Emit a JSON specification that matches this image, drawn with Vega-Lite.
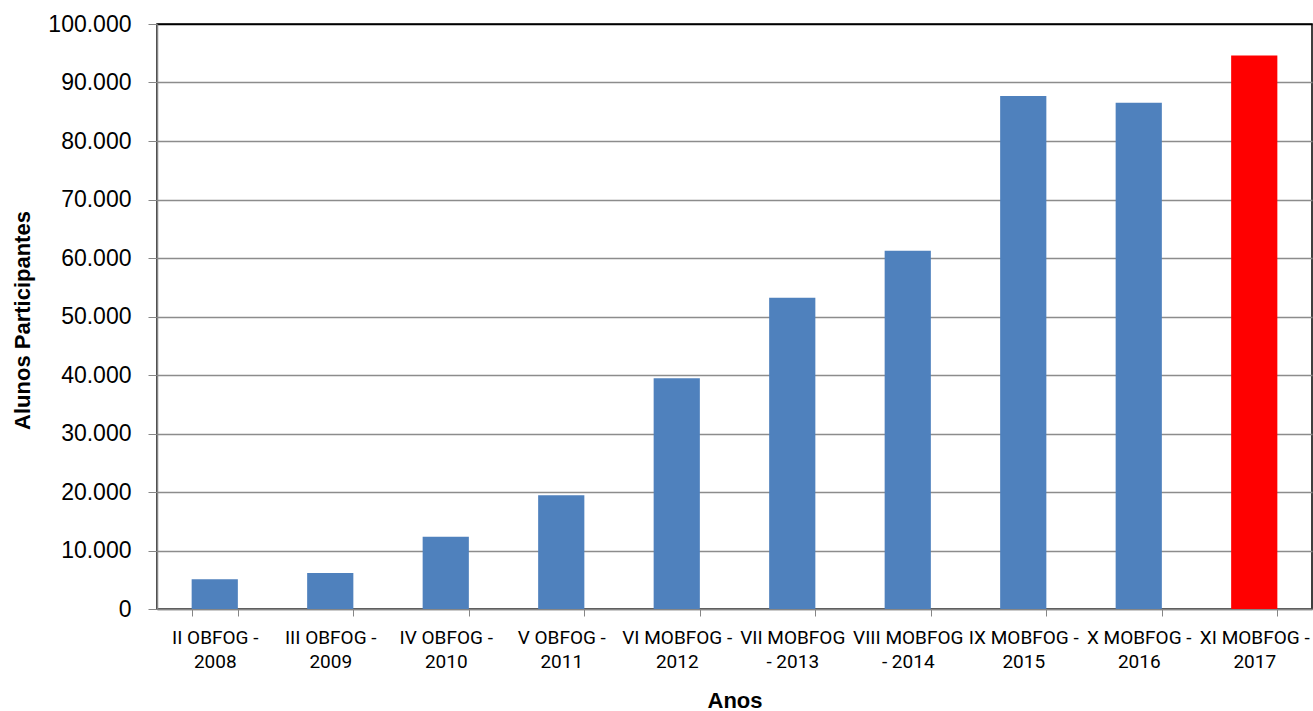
{
  "$schema": "https://vega.github.io/schema/vega-lite/v6.json",
  "autosize": "none",
  "width": 1155,
  "height": 585,
  "padding": {"left": 157, "top": 24, "right": 1, "bottom": 102},
  "background": "white",
  "config": {
    "view": {"stroke": "#000000", "strokeWidth": 1.5},
    "font": "Liberation Sans"
  },
  "data": {
    "values": [
      {"edicao": "II OBFOG -\n2008", "alunos": 5100, "destaque": "anterior"},
      {"edicao": "III OBFOG -\n2009", "alunos": 6150, "destaque": "anterior"},
      {"edicao": "IV OBFOG -\n2010", "alunos": 12350, "destaque": "anterior"},
      {"edicao": "V OBFOG -\n2011", "alunos": 19450, "destaque": "anterior"},
      {"edicao": "VI MOBFOG -\n2012", "alunos": 39450, "destaque": "anterior"},
      {"edicao": "VII MOBFOG\n- 2013", "alunos": 53200, "destaque": "anterior"},
      {"edicao": "VIII MOBFOG\n- 2014", "alunos": 61250, "destaque": "anterior"},
      {"edicao": "IX MOBFOG -\n2015", "alunos": 87700, "destaque": "anterior"},
      {"edicao": "X MOBFOG -\n2016", "alunos": 86550, "destaque": "anterior"},
      {"edicao": "XI MOBFOG -\n2017", "alunos": 94600, "destaque": "atual"}
    ]
  },
  "mark": {"type": "bar"},
  "encoding": {
    "x": {
      "field": "edicao",
      "type": "nominal",
      "sort": null,
      "scale": {"paddingInner": 0.6, "paddingOuter": 0.3},
      "axis": {
        "title": "Anos",
        "titleFont": "Liberation Sans",
        "titleFontSize": 22,
        "titleFontWeight": "bold",
        "titleColor": "#000000",
        "titleBaseline": "alphabetic",
        "titleY": 98,
        "labelAngle": 0,
        "labelExpr": "datum.value ? split(datum.value, '\\n') : ''",
        "labelFont": "Roboto",
        "labelFontSize": 19,
        "labelLineHeight": 24.5,
        "labelColor": "#000000",
        "labelPadding": 12,
        "labelOverlap": false,
        "labelBound": false,
        "tickBand": "extent",
        "tickSize": 7,
        "tickColor": "#868686",
        "domainColor": "#868686",
        "domainWidth": 1.5,
        "grid": false
      }
    },
    "y": {
      "field": "alunos",
      "type": "quantitative",
      "scale": {"domain": [0, 100000], "nice": false},
      "axis": {
        "title": "Alunos Participantes",
        "titleFont": "Liberation Sans",
        "titleFontSize": 22,
        "titleFontWeight": "bold",
        "titleColor": "#000000",
        "titleAngle": -90,
        "titleBaseline": "alphabetic",
        "titleAlign": "center",
        "titleX": -128,
        "titleY": 296,
        "values": [0, 10000, 20000, 30000, 40000, 50000, 60000, 70000, 80000, 90000, 100000],
        "labelExpr": "replace(format(datum.value, ',d'), /,/g, '.')",
        "labelFont": "Liberation Sans",
        "labelFontSize": 23,
        "labelColor": "#000000",
        "labelPadding": 17,
        "tickSize": 9,
        "tickColor": "#868686",
        "domainColor": "#868686",
        "domainWidth": 1.5,
        "grid": true,
        "gridColor": {"condition": {"test": "datum.value == 100000", "value": "#000000"}, "value": "#8c8c8c"},
        "gridWidth": 1.3
      }
    },
    "color": {
      "field": "destaque",
      "type": "nominal",
      "scale": {"domain": ["anterior", "atual"], "range": ["#4F81BD", "#FF0000"]},
      "legend": null
    }
  }
}
